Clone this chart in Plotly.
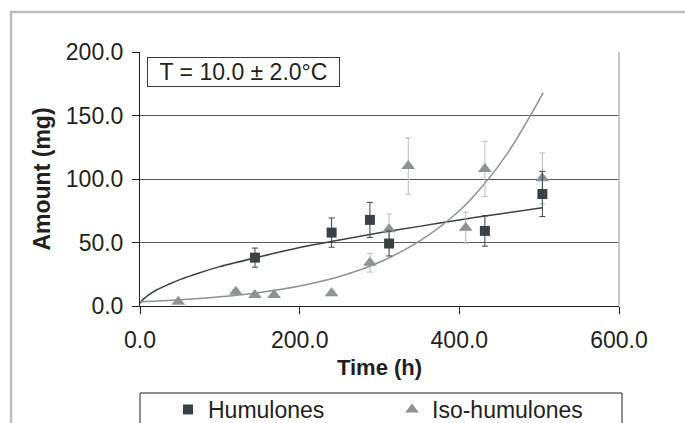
import plotly.graph_objects as go

# Data
hum_time = [144, 240, 288, 312, 432, 504]
hum_amount = [38.1, 57.8, 67.8, 49.2, 59.1, 88.2]
hum_err = [7.5, 11.5, 13.8, 9.8, 12.0, 17.8]

iso_time = [48, 120, 144, 168, 240, 288, 312, 336, 408, 432, 504]
iso_amount = [3.4, 11.3, 8.7, 8.7, 10.0, 34.1, 60.4, 110.2, 61.7, 107.9, 100.5]
iso_err = [1.0, 1.5, 1.5, 1.5, 1.5, 7.4, 12.0, 22.2, 12.2, 21.8, 20.0]

hum_fit_time = [0, 2, 5, 10, 20, 35, 50, 75, 100, 150, 200, 250, 300, 350, 400, 450, 504]
hum_fit_amount = [2.0, 3.8, 5.8, 8.3, 12.4, 16.8, 20.8, 26.2, 31.0, 38.8, 46.0, 52.0, 57.6, 62.7, 67.8, 72.5, 77.3]

iso_fit_time = [0, 50, 100, 150, 200, 250, 300, 350, 400, 430, 460, 490, 505]
iso_fit_amount = [3.3, 4.9, 7.2, 10.7, 15.8, 23.3, 34.5, 51.0, 75.0, 95.0, 120.0, 151.0, 168.0]

x_ticks = [0, 200, 400, 600]
x_labels = ["0.0", "200.0", "400.0", "600.0"]
y_ticks = [0, 50, 100, 150, 200]
y_labels = ["0.0", "50.0", "100.0", "150.0", "200.0"]

DARK = "#3b4245"
GRAY = "#8d9295"
LIGHT = "#b8bcbe"
FONT = "Liberation Sans, Arial, sans-serif"

fig = go.Figure()

fig.add_trace(go.Scatter(
    x=hum_fit_time, y=hum_fit_amount, mode="lines", line=dict(color=DARK, width=1.5, shape="spline"),
    showlegend=False, hoverinfo="skip"))
fig.add_trace(go.Scatter(
    x=iso_fit_time, y=iso_fit_amount, mode="lines", line=dict(color=GRAY, width=1.5, shape="spline"),
    showlegend=False, hoverinfo="skip"))

fig.add_trace(go.Scatter(
    x=iso_time, y=iso_amount, mode="markers", name="Iso-humulones",
    marker=dict(symbol="triangle-up", size=12, color=GRAY),
    error_y=dict(type="data", array=iso_err, color=LIGHT, thickness=1, width=3)))
fig.add_trace(go.Scatter(
    x=hum_time, y=hum_amount, mode="markers", name="Humulones",
    marker=dict(symbol="square", size=10, color=DARK),
    error_y=dict(type="data", array=hum_err, color=DARK, thickness=1, width=3)))

W, H = 685, 423
# plot area in screen pixels (reference)
PL, PR, PT, PB = 140, 619, 52, 306
L, R, T, B = PL, W - PR, PT, H - PB
pw = PR - PL
ph = PB - PT

def px_x(p):
    return (p - PL) / pw

def px_y(p):
    return (PB - p) / ph

fig.update_layout(
    width=W, height=H,
    margin=dict(l=L, r=R, t=T, b=B, autoexpand=False),
    paper_bgcolor="white", plot_bgcolor="white",
    font=dict(family=FONT, size=23, color="#231f20"),
    showlegend=True,
    legend=dict(orientation="h", x=px_x(168), xanchor="left", y=px_y(388), yanchor="top",
                traceorder="reversed", entrywidth=179, entrywidthmode="pixels",
                font=dict(size=23), bgcolor="rgba(0,0,0,0)", borderwidth=0),
    xaxis=dict(range=[0, 600], tickvals=x_ticks, ticktext=x_labels, showgrid=False,
               zeroline=False, showline=True, linecolor="#231f20", linewidth=1,
               ticks="outside", ticklen=7, tickcolor="#231f20", automargin=False,
               ticklabelstandoff=6,
               title=dict(text="<b>Time (h)</b>", font=dict(size=22), standoff=8)),
    yaxis=dict(range=[0, 200], tickvals=y_ticks, ticktext=y_labels, showgrid=True,
               gridcolor="#5a5a5a", gridwidth=1, zeroline=False, showline=True,
               linecolor="#231f20", linewidth=1, ticks="outside", ticklen=7, tickcolor="#231f20",
               automargin=False, ticklabelstandoff=4,
               title=dict(text="<b>Amount (mg)</b>", font=dict(size=23), standoff=8)),
    shapes=[
        dict(type="rect", xref="paper", yref="paper", x0=px_x(11), x1=px_x(720),
             y0=px_y(460), y1=px_y(12), line=dict(color="#bdbdbd", width=2.5)),
        dict(type="line", xref="paper", yref="paper", x0=1, x1=1, y0=0, y1=1,
             line=dict(color="#b4b4b4", width=1.5)),
        dict(type="rect", xref="paper", yref="paper", x0=px_x(140), x1=px_x(622),
             y0=px_y(460), y1=px_y(393), line=dict(color="#231f20", width=1)),
    ],
    annotations=[
        dict(text="T = 10.0 ± 2.0°C", xref="paper", yref="paper", x=px_x(243), y=px_y(72),
             xanchor="center", yanchor="middle", showarrow=False, font=dict(size=23),
             bordercolor="#3a3a3a", borderwidth=1, borderpad=2, bgcolor="white",
             width=187, height=24),
    ],
)

fig.write_html(
    "out.html",
    config={"displayModeBar": False},
    post_script="document.body.style.margin='0';document.body.style.overflow='hidden';",
)
